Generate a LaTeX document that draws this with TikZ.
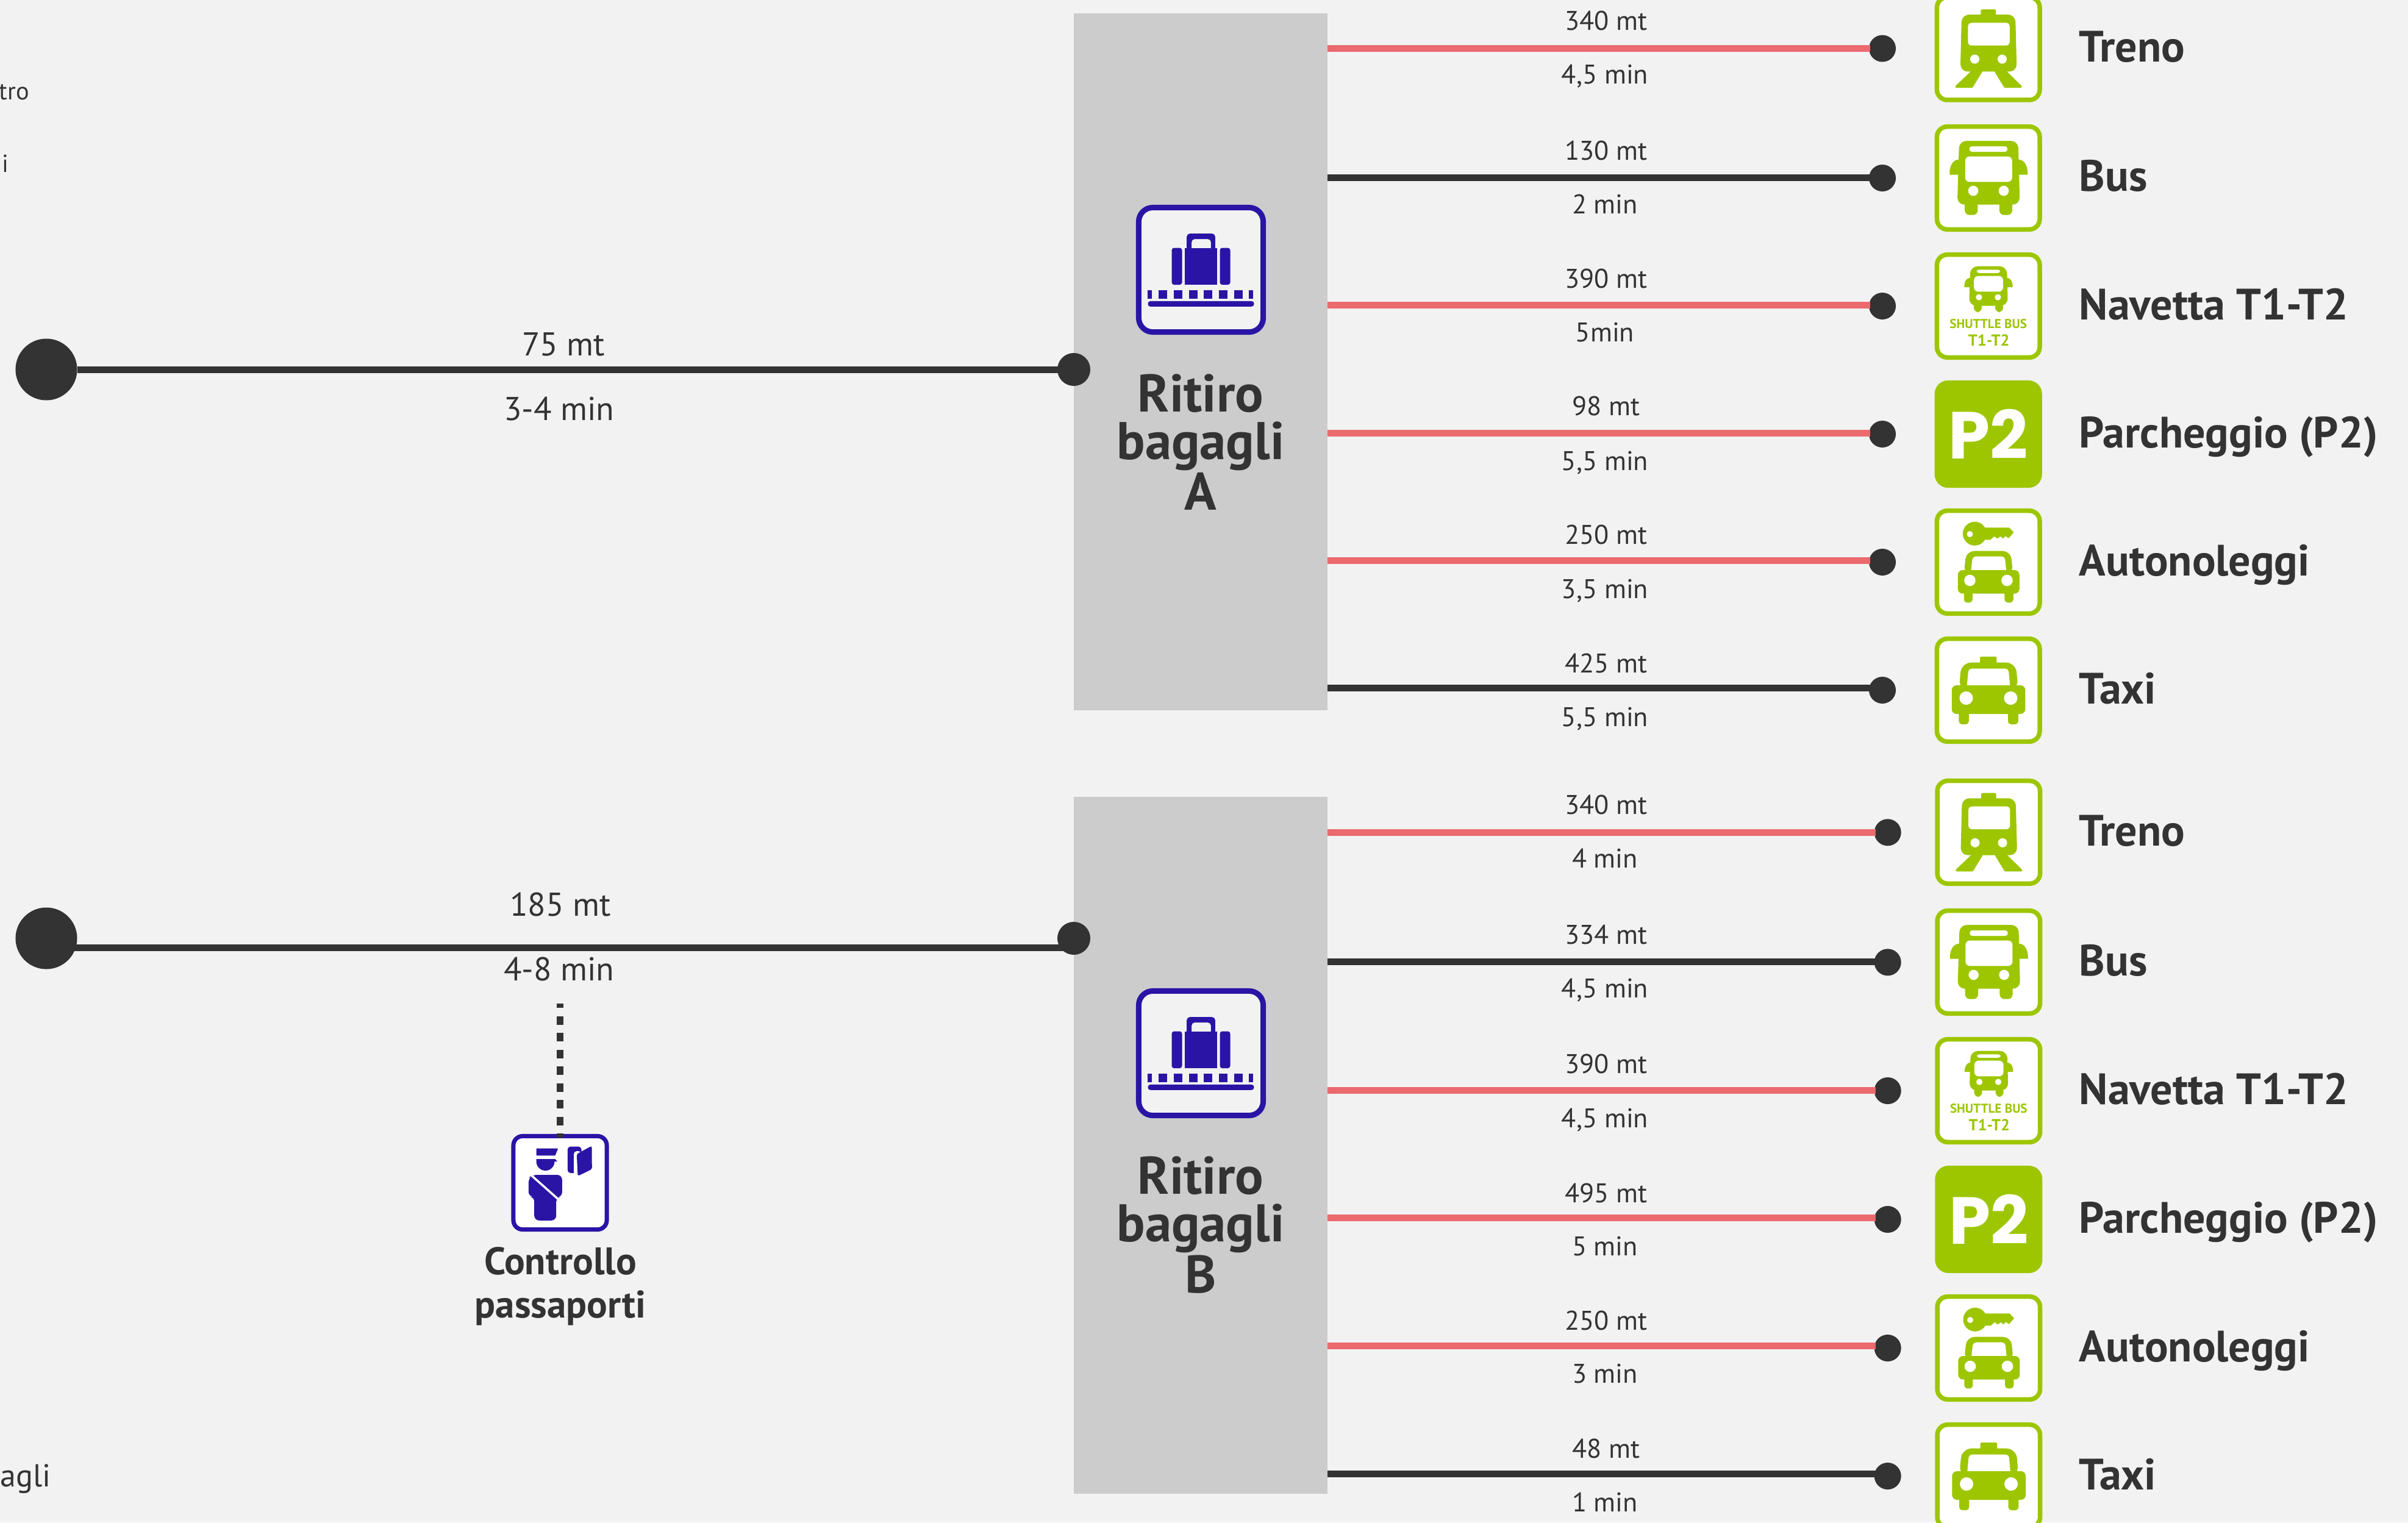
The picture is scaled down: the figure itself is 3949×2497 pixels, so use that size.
\documentclass[tikz,border=0pt]{standalone}
\usepackage{fontspec}
\setmainfont{PT Sans}
\newfontfamily\parkfont{Poppins}
\definecolor{pagegray}{HTML}{F2F2F2}
\definecolor{panelgray}{HTML}{CCCCCC}
\definecolor{inkdark}{HTML}{333333}
\definecolor{linered}{HTML}{EA6A6E}
\definecolor{icongreen}{HTML}{9DC600}
\definecolor{iconblue}{HTML}{2A14A6}
\tikzset{
  panel/.style={fill=panelgray, minimum width=4.16cm, minimum height=11.42cm, outer sep=0pt},
  stopdot/.style={circle, fill=inkdark, minimum size=0.44cm, inner sep=0pt, outer sep=0pt},
  enddot/.style={circle, fill=inkdark, minimum size=0.54cm, inner sep=0pt, outer sep=0pt},
  startdot/.style={circle, fill=inkdark, minimum size=1.01cm, inner sep=0pt, outer sep=0pt},
  redline/.style={draw=linered, line width=0.11cm, shorten >=-0.02cm},
  darkline/.style={draw=inkdark, line width=0.11cm, shorten >=-0.02cm},
  dashline/.style={draw=inkdark, line width=0.11cm, dash pattern=on 0.14cm off 0.135cm, dash phase=0.07cm},
  smalltext/.style={text=inkdark, anchor=base, inner sep=0pt, font=\fontsize{12.6}{12.6}\selectfont},
  midtext/.style={text=inkdark, anchor=base, inner sep=0pt, font=\fontsize{15.4}{15.4}\selectfont},
  modetext/.style={text=inkdark, anchor=base west, inner sep=0pt, font=\bfseries\fontsize{20.5}{20.5}\selectfont},
  paneltext/.style={text=inkdark, align=center, inner sep=0pt, font=\bfseries\fontsize{24.7}{22.2}\selectfont},
  checktext/.style={text=inkdark, align=center, inner sep=0pt, font=\bfseries\fontsize{17.9}{20.2}\selectfont},
  cuttext/.style={text=inkdark, anchor=base west, inner sep=0pt, font=\fontsize{11.5}{11.5}\selectfont},
  greenbox/.style={draw=icongreen, fill=white, line width=0.075cm, rounded corners=0.17cm, minimum width=1.685cm, minimum height=1.685cm, inner sep=0pt},
  parkbox/.style={fill=icongreen, text=white, rounded corners=0.22cm, minimum width=1.76cm, minimum height=1.76cm, inner sep=0pt, font=\parkfont\bfseries\fontsize{31}{31}\selectfont},
  bagbox/.style={draw=iconblue, fill=pagegray, line width=0.09cm, rounded corners=0.23cm, minimum width=2.04cm, minimum height=2.04cm, inner sep=0pt},
  passbox/.style={draw=iconblue, fill=white, line width=0.07cm, rounded corners=0.15cm, minimum width=1.53cm, minimum height=1.53cm, inner sep=0pt},
  trainicon/.pic={
    \fill[icongreen, rounded corners=0.02cm] (-12.3,-64.3) rectangle (12.3,-50);
    \fill[icongreen, rounded corners=0.12cm] (-43.7,-55.7) -- (44.3,-55.7) -- (46.7,37.7) -- (-46,37.7) -- cycle;
    \fill[white, rounded corners=0.06cm] (-33.3,-42.3) rectangle (35,-5);
    \fill[white] (-22.3,17.3) circle (7.5);
    \fill[white] (22.7,17.3) circle (7.5);
    \fill[icongreen, rounded corners=0.01cm] (-28.3,37) -- (-54.3,61.7) -- (-53.7,64.3) -- (-26,64.3) -- (-9.3,37) -- cycle;
    \fill[icongreen, rounded corners=0.01cm] (30,37) -- (55,61.7) -- (54.5,64.3) -- (26.3,64.3) -- (9.7,37) -- cycle;
  },
  busicon/.pic={
    \fill[icongreen, rounded corners=0.12cm] (-47.7,-61) -- (49,-61) -- (51.7,43.7) -- (-51,43.7) -- cycle;
    \fill[icongreen] (-48,-30.3) .. controls (-58,-30.3) and (-63.5,-20) .. (-63.5,-8) -- (-63.5,-5.3) -- (-48,-5.3) -- cycle;
    \fill[icongreen] (49,-30.3) .. controls (59,-30.3) and (64.5,-20) .. (64.5,-8) -- (64.5,-5.3) -- (49,-5.3) -- cycle;
    \fill[icongreen, rounded corners=0.08cm] (-38.7,35) rectangle (-17.3,60.7);
    \fill[icongreen, rounded corners=0.08cm] (18,35) rectangle (39.3,60.7);
    \fill[white, rounded corners=0.04cm] (-31,-52) rectangle (31.3,-43);
    \fill[white, rounded corners=0.07cm] (-38,-35.3) rectangle (39,6.3);
    \fill[white] (-24.7,21) circle (8.3);
    \fill[white] (25.3,21) circle (8.3);
  },
  shuttleicon/.pic={
    \pic[scale=0.62] at (0,-27.5) {busicon};
    \node[text=icongreen, inner sep=0pt, font=\bfseries\fontsize{6}{6}\selectfont] (-top) at (0,29) {SHUTTLE BUS};
    \node[text=icongreen, inner sep=0pt, font=\bfseries\fontsize{7.5}{7.5}\selectfont] (-low) at (1,56) {T1-T2};
  },
  rentalicon/.pic={
    \fill[icongreen] (-22.3,-46.7) circle (19.5);
    \fill[white] (-30.3,-46) circle (5);
    \fill[icongreen] (-7.7,-56.7) -- (34.3,-56.7) -- (41.7,-48.7) -- (33.3,-39.3) -- (28.3,-42.7) -- (24,-38.7) -- (20,-42.3) -- (15,-38.7) -- (9.7,-42.3) -- (3.3,-36.7) -- (-7.7,-36.7) -- cycle;
    \fill[icongreen, rounded corners=0.13cm] (-40.3,20) -- (-36,-18.3) -- (36.5,-18.3) -- (40.7,20) -- cycle;
    \fill[white, rounded corners=0.05cm] (-29,20) -- (-25.7,-9.3) -- (27,-9.3) -- (30,20) -- cycle;
    \fill[icongreen, rounded corners=0.08cm] (-50,13) rectangle (51,51.7);
    \fill[icongreen] (-29,13) rectangle (30,20);
    \fill[icongreen, rounded corners=0.05cm] (-40,45) rectangle (-26,66.3);
    \fill[icongreen, rounded corners=0.05cm] (26.7,45) rectangle (41,66.3);
    \fill[white] (-30.3,30) circle (9.3);
    \fill[white] (30.7,30) circle (9.3);
  },
  taxiicon/.pic={
    \fill[icongreen, rounded corners=0.02cm] (-13.7,-55) rectangle (13.7,-40);
    \fill[icongreen, rounded corners=0.16cm] (-48.3,0) -- (-44,-45.3) -- (45,-45.3) -- (49,0) -- cycle;
    \fill[white, rounded corners=0.05cm] (-35.7,0) -- (-32.5,-35.3) -- (33,-35.3) -- (36.3,0) -- cycle;
    \fill[icongreen, rounded corners=0.08cm] (-60,-8) rectangle (60.7,39);
    \fill[icongreen] (-36,-8) rectangle (36.5,0);
    \fill[icongreen, rounded corners=0.05cm] (-48.3,34) rectangle (-32,56);
    \fill[icongreen, rounded corners=0.05cm] (32.3,34) rectangle (49,56);
    \fill[white] (-36.3,13) circle (11);
    \fill[white] (36.7,13) circle (11);
  },
  bagicon/.pic={
    \fill[iconblue, even odd rule, rounded corners=0.05cm] (-23.3,-59.3) rectangle (23.3,-30) (-15.3,-50.4) rectangle (16.3,-30);
    \fill[iconblue] (-26.7,-36) rectangle (26.7,24.6);
    \fill[iconblue, rounded corners=0.04cm] (-48,-36) rectangle (-31,24.6);
    \fill[iconblue, rounded corners=0.04cm] (31,-36) rectangle (48,24.6);
    \fill[iconblue] (-87.3,33.5) rectangle (-80.3,47.4);
    \fill[iconblue] (-69.7,33.5) rectangle (-55.7,47.4);
    \fill[iconblue] (-44.7,33.5) rectangle (-30.7,47.4);
    \fill[iconblue] (-20,33.5) rectangle (-6,47.4);
    \fill[iconblue] (4.7,33.5) rectangle (18.7,47.4);
    \fill[iconblue] (29.3,33.5) rectangle (43.3,47.4);
    \fill[iconblue] (54,33.5) rectangle (68,47.4);
    \fill[iconblue] (78.7,33.5) rectangle (85.7,47.4);
    \fill[iconblue, rounded corners=0.04cm] (-87,51.4) rectangle (87,60.3);
  },
  officericon/.pic={
    \fill[iconblue, rounded corners=0.01cm] (-39,-56.4) -- (-3.3,-56.4) -- (-8,-44.6) -- (-39,-44.6) -- cycle;
    \fill[iconblue] (-39,-38.8) -- (-8,-38.8) -- (-4.3,-35) -- (-9,-35) arc (0:180:15) -- cycle;
    \fill[iconblue, rounded corners=0.08cm] (-46,-13) -- (3.3,-13) -- (3.3,23.5) -- (-6.3,23.5) -- (-6.3,61.8) -- (-42.3,61.8) -- (-42.3,22.8) -- (-51.7,22.8) -- (-51.7,-8) -- cycle;
    \draw[white, line width=0.035cm] (-48,-13) -- (-3,27);
    \fill[iconblue, rounded corners=0.05cm] (12.3,-59.5) rectangle (35,-16);
    \fill[white, rounded corners=0.05cm] (22.5,-52) rectangle (35,-10);
    \fill[iconblue, rounded corners=0.03cm] (27.3,-47.2) -- (52,-60.6) -- (52.3,-22.4) -- (29,-11) -- cycle;
  }
}

\begin{document}
\begin{tikzpicture}[x=0.01cm, y=-0.01cm]
      \useasboundingbox (0, 0) rectangle (3949, 2497);
      \fill[pagegray] (0, 0) rectangle (3949, 2497);

      \node[cuttext] (cutA) at (-2, 163) {tro};
      \node[cuttext] (cutB) at (3, 282) {i};
      \node[cuttext, font=\fontsize{14.8}{14.8}\selectfont] (cutC) at (0, 2438) {agli};

      \node[panel] (panelA) at (1969, 593.5) {};
      \node[panel] (panelB) at (1969, 1878.5) {};

      \node[startdot] (startA) at (76, 606) {};
      \node[enddot] (endA) at (1761, 606) {};
      \draw[darkline] (startA) -- (endA);
      \node[midtext] (distA) at (924, 583) {75 mt};
      \node[midtext] (timeA) at (917, 689) {3-4 min};

      \node[startdot] (startB) at (76, 1539) {};
      \node[enddot] (endB) at (1761, 1539) {};
      \coordinate (laneB) at (900, 1554.7);
      \draw[darkline] (laneB -| startB) -- (laneB -| endB);
      \node[midtext] (distB) at (919, 1502) {185 mt};
      \node[midtext] (timeB) at (917, 1608) {4-8 min};

      \node[passbox] (passcheck) at (918.5, 1940) {};
      \pic at (passcheck) {officericon};
      \coordinate (dashtop) at (918.5, 1646);
      \draw[dashline, shorten >=-0.06cm] (dashtop) -- (passcheck.north);
      \node[checktext] (passlabel) at (919, 2110) {Controllo\\passaporti};

      \node[bagbox] (bagA) at (1969.5, 442.5) {};
      \pic at (bagA) {bagicon};
      \node[paneltext] (labelA) at (1969, 725) {Ritiro\\bagagli\\A};
      \node[bagbox] (bagB) at (1969.5, 1727.5) {};
      \pic at (bagB) {bagicon};
      \node[paneltext] (labelB) at (1969, 2009) {Ritiro\\bagagli\\B};

      \node[stopdot] (dotA1) at (3087, 79.5) {};
      \coordinate (laneA1) at (2177, 79.5);
      \draw[redline] (laneA1) -- (laneA1 -| dotA1.west);
      \node[smalltext] (distA1) at (2634, 50) {340 mt};
      \node[smalltext] (timeA1) at (2632, 138) {4,5 min};
      \node[greenbox] (iconA1) at (3260.7, 79.7) {};
      \pic at (iconA1) {trainicon};
      \node[modetext] (modeA1) at (3409, 101.5) {Treno};

      \node[stopdot] (dotA2) at (3087, 292) {};
      \coordinate (laneA2) at (2177, 291.7);
      \draw[darkline] (laneA2) -- (laneA2 -| dotA2.west);
      \node[smalltext] (distA2) at (2634, 262) {130 mt};
      \node[smalltext] (timeA2) at (2632, 350) {2 min};
      \node[greenbox] (iconA2) at (3260.7, 292) {};
      \pic at (iconA2) {busicon};
      \node[modetext] (modeA2) at (3409, 314) {Bus};

      \node[stopdot] (dotA3) at (3087, 502) {};
      \coordinate (laneA3) at (2177, 500.7);
      \draw[redline] (laneA3) -- (laneA3 -| dotA3.west);
      \node[smalltext] (distA3) at (2634, 472) {390 mt};
      \node[smalltext] (timeA3) at (2632, 560) {5min};
      \node[greenbox] (iconA3) at (3260.7, 502) {};
      \pic (shuttleA) at (iconA3) {shuttleicon};
      \node[modetext] (modeA3) at (3409, 524) {Navetta T1-T2};

      \node[stopdot] (dotA4) at (3087, 712) {};
      \coordinate (laneA4) at (2177, 710);
      \draw[redline] (laneA4) -- (laneA4 -| dotA4.west);
      \node[smalltext] (distA4) at (2634, 681) {98 mt};
      \node[smalltext] (timeA4) at (2632, 771) {5,5 min};
      \node[parkbox] (iconA4) at (3260.7, 712) {P2};
      \node[modetext] (modeA4) at (3409, 734) {Parcheggio (P2)};

      \node[stopdot] (dotA5) at (3087, 922) {};
      \coordinate (laneA5) at (2177, 919);
      \draw[redline] (laneA5) -- (laneA5 -| dotA5.west);
      \node[smalltext] (distA5) at (2634, 892) {250 mt};
      \node[smalltext] (timeA5) at (2632, 981) {3,5 min};
      \node[greenbox] (iconA5) at (3260.7, 922) {};
      \pic at (iconA5) {rentalicon};
      \node[modetext] (modeA5) at (3409, 944) {Autonoleggi};

      \node[stopdot] (dotA6) at (3087, 1132) {};
      \coordinate (laneA6) at (2177, 1128);
      \draw[darkline] (laneA6) -- (laneA6 -| dotA6.west);
      \node[smalltext] (distA6) at (2634, 1103) {425 mt};
      \node[smalltext] (timeA6) at (2632, 1191) {5,5 min};
      \node[greenbox] (iconA6) at (3260.7, 1132) {};
      \pic at (iconA6) {taxiicon};
      \node[modetext] (modeA6) at (3409, 1154) {Taxi};

      \node[stopdot] (dotB1) at (3095.7, 1365.3) {};
      \coordinate (laneB1) at (2177, 1365.3);
      \draw[redline] (laneB1) -- (laneB1 -| dotB1.west);
      \node[smalltext] (distB1) at (2634, 1335) {340 mt};
      \node[smalltext] (timeB1) at (2632, 1423) {4 min};
      \node[greenbox] (iconB1) at (3261.3, 1365) {};
      \pic at (iconB1) {trainicon};
      \node[modetext] (modeB1) at (3409, 1387) {Treno};

      \node[stopdot] (dotB2) at (3095.7, 1578.3) {};
      \coordinate (laneB2) at (2177, 1577.3);
      \draw[darkline] (laneB2) -- (laneB2 -| dotB2.west);
      \node[smalltext] (distB2) at (2634, 1548) {334 mt};
      \node[smalltext] (timeB2) at (2632, 1636) {4,5 min};
      \node[greenbox] (iconB2) at (3261.3, 1578) {};
      \pic at (iconB2) {busicon};
      \node[modetext] (modeB2) at (3409, 1600) {Bus};

      \node[stopdot] (dotB3) at (3095.7, 1789) {};
      \coordinate (laneB3) at (2177, 1788);
      \draw[redline] (laneB3) -- (laneB3 -| dotB3.west);
      \node[smalltext] (distB3) at (2634, 1760) {390 mt};
      \node[smalltext] (timeB3) at (2632, 1849) {4,5 min};
      \node[greenbox] (iconB3) at (3261.3, 1789) {};
      \pic (shuttleB) at (iconB3) {shuttleicon};
      \node[modetext] (modeB3) at (3409, 1811) {Navetta T1-T2};

      \node[stopdot] (dotB4) at (3095.7, 2000) {};
      \coordinate (laneB4) at (2177, 1997);
      \draw[redline] (laneB4) -- (laneB4 -| dotB4.west);
      \node[smalltext] (distB4) at (2634, 1972) {495 mt};
      \node[smalltext] (timeB4) at (2632, 2059) {5 min};
      \node[parkbox] (iconB4) at (3261.3, 2000) {P2};
      \node[modetext] (modeB4) at (3409, 2022) {Parcheggio (P2)};

      \node[stopdot] (dotB5) at (3095.7, 2211) {};
      \coordinate (laneB5) at (2177, 2207.7);
      \draw[redline] (laneB5) -- (laneB5 -| dotB5.west);
      \node[smalltext] (distB5) at (2634, 2181) {250 mt};
      \node[smalltext] (timeB5) at (2632, 2268) {3 min};
      \node[greenbox] (iconB5) at (3261.3, 2211) {};
      \pic at (iconB5) {rentalicon};
      \node[modetext] (modeB5) at (3409, 2233) {Autonoleggi};

      \node[stopdot] (dotB6) at (3095.7, 2421) {};
      \coordinate (laneB6) at (2177, 2417);
      \draw[darkline] (laneB6) -- (laneB6 -| dotB6.west);
      \node[smalltext] (distB6) at (2634, 2391) {48 mt};
      \node[smalltext] (timeB6) at (2632, 2479) {1 min};
      \node[greenbox] (iconB6) at (3261.3, 2421) {};
      \pic at (iconB6) {taxiicon};
      \node[modetext] (modeB6) at (3409, 2443) {Taxi};
    \end{tikzpicture}
\end{document}
